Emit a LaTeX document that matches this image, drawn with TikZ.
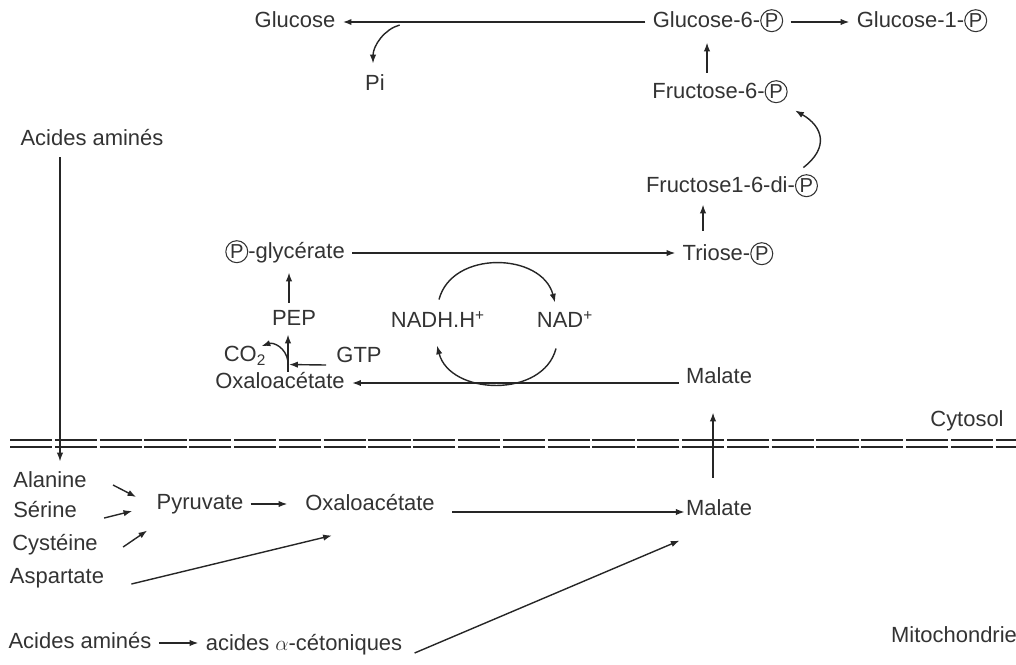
\documentclass[tikz,border=0pt]{standalone}
\usepackage{fontspec}
\setmainfont{Liberation Sans}
\usepackage{tikz}
\usetikzlibrary{arrows.meta, calc, positioning}

\newcommand{\phos}{\tikz[baseline=(P.base)]\node[circle, draw, line width=0.6pt, inner sep=0pt, minimum size=12.5pt, text height=8pt, text depth=0pt, font=\fontsize{11.5}{12}\selectfont] (P) {P};}

\begin{document}
\begin{tikzpicture}[
            x=0.02cm, y=-0.02cm,
            >={Latex[length=5pt, width=3.6pt]},
            metab/.style={inner xsep=4pt, inner ysep=4pt, text height=9pt, text depth=2.5pt, font=\fontsize{12.5}{15}\selectfont, text=black!80},
            flux/.style={->, line width=0.8pt, draw=black!85},
            membrane/.style={line width=1pt, draw=black!85, dash pattern=on 24pt off 1.5pt}
        ]
        \useasboundingbox (0,0) rectangle (1016,664);

        % Cytosol
        \node[metab] (glc)  at (295,22)  {Glucose};
        \node[metab] (g6p)  at (718,22)  {Glucose-6-\phos};
        \node[metab] (g1p)  at (922,22)  {Glucose-1-\phos};
        \node[metab] (pi)   at (375,85)  {Pi};
        \node[metab] (f6p)  at (720,93)  {Fructose-6-\phos};
        \node[metab] (f16)  at (732,187) {Fructose1-6-di-\phos};
        \node[metab] (tri)  at (728,255) {Triose-\phos};
        \node[metab] (pgly) at (285,253) {\phos-glycérate};
        \node[metab] (pep)  at (294,320) {PEP};
        \node[metab] (co2)  at (245,356) {CO\textsubscript{2}};
        \node[metab] (gtp)  at (359,357) {GTP};
        \node[metab] (oxc)  at (280,383) {Oxaloacétate};
        \node[metab] (malc) at (719,378) {Malate};
        \node[metab] (nadh) at (438,322) {NADH.H\textsuperscript{+}};
        \node[metab] (nad)  at (565,322) {NAD\textsuperscript{+}};
        \node[metab] (cyt)  at (967,421) {Cytosol};
        \node[metab] (aat)  at (92,140)  {Acides aminés};

        % Mitochondrie
        \node[metab] (ala)  at (50,482)  {Alanine};
        \node[metab] (ser)  at (45,512)  {Sérine};
        \node[metab] (cys)  at (55,545)  {Cystéine};
        \node[metab] (asp)  at (57,578)  {Aspartate};
        \node[metab] (pyr)  at (200,504) {Pyruvate};
        \node[metab] (oxm)  at (370,505) {Oxaloacétate};
        \node[metab] (malm) at (719,510) {Malate};
        \node[metab] (aab)  at (80,643)  {Acides aminés};
        \node[metab] (acet) at (304,645) {acides $\alpha$-cétoniques};
        \node[metab] (mito) at (954,637) {Mitochondrie};

        % Membrane
        \draw[membrane] (10,440) -- (1016,440);
        \draw[membrane] (10,447) -- (1016,447);

        % Fleches cytosol
        \draw[flux, line width=0.9pt] (g6p.west) -- (glc.east);
        \draw[flux] ($(glc.east)+(57,3)$) .. controls +(-15,4) and +(0,-18) .. ($(pi.north)+(-2,-4)$);
        \draw[flux] (g6p.east) -- (g1p.west);
        \draw[flux] ($(f6p.north)+(-13,-3)$) -- ($(g6p.south)+(-11,3)$);
        \draw[flux] ($(f16.north east)+(-22,-2)$) .. controls +(26,-20) and +(28,16) .. (f6p.south east);
        \draw[flux] ($(tri.north)+(-25,-7)$) -- ($(f16.south)+(-29,0)$);
        \draw[flux] (pgly.east) -- (pgly.east -| tri.west);
        \draw[flux] ($(pep.north)+(-5,0)$) -- ($(pep.north |- pgly.south)+(-5,2)$);
        \draw[flux] ($(oxc.north)+(8,6)$) -- ($(pep.south)+(-6,-3)$);
        \draw[flux] ($(oxc.north)+(8,-4)$) .. controls +(-2,-14) and +(12,-4) .. ($(co2.east)+(-12,-10)$);
        \draw[flux] ($(gtp.west)+(-3,8)$) -- ($(oxc.north)+(9,-1)$);
        \draw[flux] (malc.west |- oxc) -- (oxc.east);
        \draw[flux] ($(nadh.north)+(1,-5)$) .. controls +(13,-50) and +(-13,-50) .. ($(nad.north)+(-10,-2)$);
        \draw[flux] ($(nad.south)+(-9,9)$) .. controls +(-13,50) and +(13,50) .. ($(nadh.south)+(-1,6)$);

        % Fleches mitochondrie
        \draw[flux] ($(aat.south)+(-32,0)$) -- ($(ala.north)+(10,-3)$);
        \draw[flux] ($(malm.north)+(-6,-15)$) -- ($(malc.south)+(-6,17)$);
        \draw[flux] ($(ala.east)+(19,3)$) -- ($(pyr.west)+(-13,-7)$);
        \draw[flux] ($(ser.east)+(20,6)$) -- ($(pyr.west)+(-17,7)$);
        \draw[flux] ($(cys.east)+(18,2)$) -- ($(pyr.south west)+(-2,9)$);
        \draw[flux, shorten >=6pt] (pyr.east) -- (pyr.east -| oxm.west);
        \draw[flux] ($(oxm.east)+(10,7)$) -- ($(oxm.east -| malm.west)+(6,7)$);
        \draw[flux] ($(asp.east)+(20,6)$) -- ($(oxm.south west)+(34,13)$);
        \draw[flux] (aab.east) -- (aab.east -| acet.west);
        \draw[flux] ($(acet.east)+(5,8)$) -- ($(malm.south west)+(1,13)$);

    \end{tikzpicture}
\end{document}
